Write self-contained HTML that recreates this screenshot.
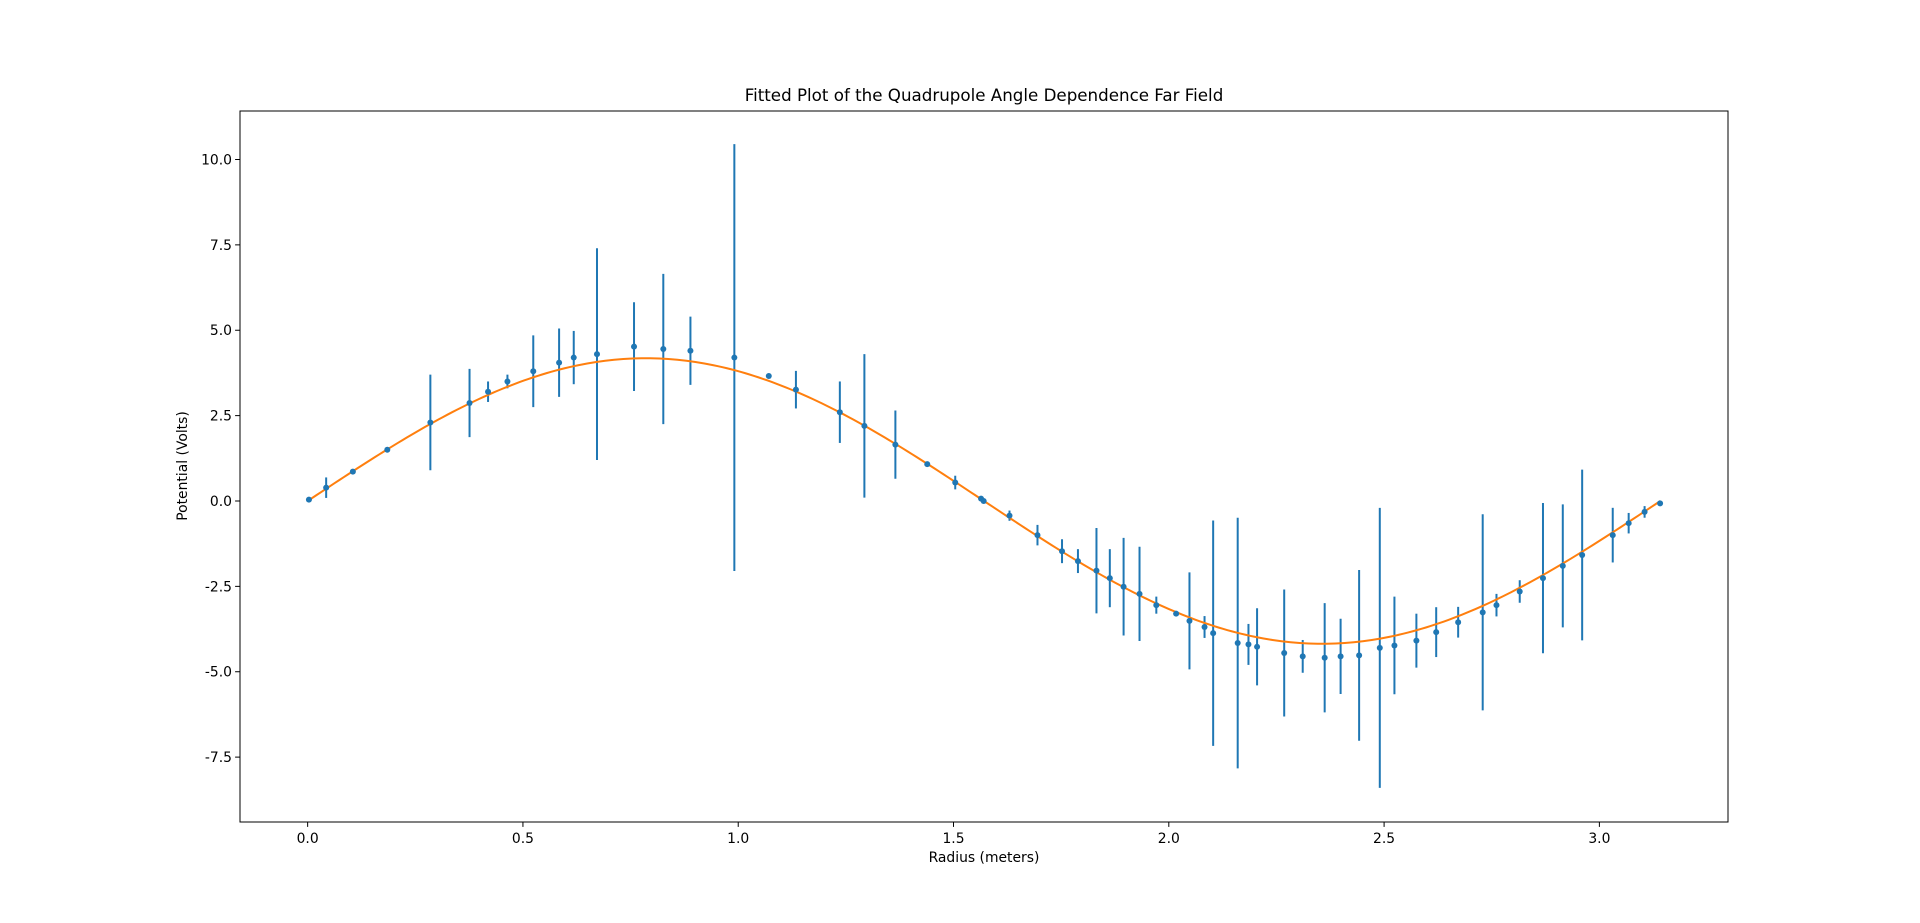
<!DOCTYPE html>
<html><head><meta charset="utf-8"><style>
html,body{margin:0;padding:0;background:#fff;}
svg{display:block;font-family:"DejaVu Sans","Liberation Sans",sans-serif;}
</style></head><body>
<svg id="chart" width="1920" height="923" xmlns="http://www.w3.org/2000/svg">
<rect width="1920" height="923" fill="#fff"/>
<text x="984" y="101" text-anchor="middle" font-size="16.7">Fitted Plot of the Quadrupole Angle Dependence Far Field</text>
<g id="plot"></g>
<rect x="240" y="111" width="1488" height="711" fill="none" stroke="#000" stroke-width="1"/>
<text x="984" y="862" text-anchor="middle" font-size="13.9">Radius (meters)</text>
<text transform="translate(187,466) rotate(-90)" text-anchor="middle" font-size="13.9">Potential (Volts)</text>
</svg>
<script>
const xVals=[0.003,0.043,0.105,0.185,0.285,0.376,0.419,0.464,0.524,0.584,0.618,0.672,0.758,0.826,0.889,0.991,1.071,1.134,1.236,1.293,1.365,1.439,1.504,1.564,1.57,1.63,1.695,1.752,1.789,1.832,1.863,1.895,1.932,1.971,2.017,2.048,2.083,2.103,2.16,2.185,2.205,2.268,2.311,2.362,2.399,2.442,2.49,2.524,2.575,2.621,2.672,2.729,2.761,2.815,2.869,2.915,2.96,3.031,3.068,3.105,3.141];
const yVals=[0.04,0.39,0.86,1.5,2.3,2.87,3.2,3.5,3.8,4.05,4.2,4.3,4.52,4.45,4.4,4.2,3.66,3.26,2.6,2.2,1.65,1.08,0.54,0.07,0.0,-0.43,-1.0,-1.47,-1.76,-2.04,-2.26,-2.51,-2.72,-3.05,-3.3,-3.51,-3.69,-3.87,-4.16,-4.2,-4.27,-4.45,-4.55,-4.59,-4.55,-4.52,-4.3,-4.23,-4.09,-3.84,-3.55,-3.26,-3.05,-2.65,-2.26,-1.9,-1.58,-1.0,-0.65,-0.32,-0.07];
const yErrs=[0,0.3,0,0,1.4,1.0,0.3,0.2,1.05,1.0,0.78,3.1,1.3,2.2,1.0,6.25,0,0.55,0.9,2.1,1.0,0,0.2,0.05,0,0.15,0.3,0.35,0.35,1.25,0.85,1.43,1.38,0.25,0,1.42,0.32,3.3,3.67,0.6,1.13,1.86,0.48,1.6,1.1,2.5,4.1,1.43,0.79,0.73,0.45,2.87,0.33,0.33,2.2,1.8,2.5,0.8,0.3,0.17,0];
const fitParams=[4.18,2.0];
const xTicks=[0.0,0.5,1.0,1.5,2.0,2.5,3.0];
const yTicks=[-7.5,-5.0,-2.5,0.0,2.5,5.0,7.5,10.0];

const L=240,R=1728,T=111,B=822,xmin=-0.1571,xmax=3.2987,ymin=-9.40,ymax=11.42;
const sx=v=>L+(v-xmin)/(xmax-xmin)*(R-L);
const sy=v=>B-(v-ymin)/(ymax-ymin)*(B-T);
const NS="http://www.w3.org/2000/svg";
const svg=document.getElementById('chart');
const plot=document.getElementById('plot');
function mk(tag,attrs,parent){const e=document.createElementNS(NS,tag);for(const k in attrs)e.setAttribute(k,attrs[k]);(parent||svg).appendChild(e);return e;}

xTicks.forEach(t=>{
  const l=mk('line',{x1:sx(t),x2:sx(t),y1:B,y2:B+4.9,stroke:'#000','stroke-width':1});
  
  
  const tx=mk('text',{x:sx(t),y:B+21,'text-anchor':'middle','font-size':13.9});
  tx.textContent=t.toFixed(1);
  
  
});
yTicks.forEach(t=>{
  const l=mk('line',{x1:L-4.9,x2:L,y1:sy(t),y2:sy(t),stroke:'#000','stroke-width':1});
  
  
  const tx=mk('text',{x:L-8,y:sy(t)+5,'text-anchor':'end','font-size':13.9});
  tx.textContent=t.toFixed(1);
  
  
});

xVals.forEach((x,i)=>{
  if(yErrs[i]>0){
    const e=mk('line',{x1:sx(x),x2:sx(x),y1:sy(yVals[i]+yErrs[i]),y2:sy(yVals[i]-yErrs[i]),stroke:'#1f77b4','stroke-width':2},plot);
    
    
  }
});
let d='';
for(let k=0;k<=300;k++){const x=Math.PI*k/300;const y=fitParams[0]*Math.sin(fitParams[1]*x);d+=(k?'L':'M')+sx(x).toFixed(2)+','+sy(y).toFixed(2);}
const fit=mk('path',{d:d,fill:'none',stroke:'#ff7f0e','stroke-width':2},plot);


xVals.forEach((x,i)=>{
  const c=mk('circle',{cx:sx(x),cy:sy(yVals[i]),r:3,fill:'#1f77b4'},plot);
  
  
});
</script>
</body></html>
